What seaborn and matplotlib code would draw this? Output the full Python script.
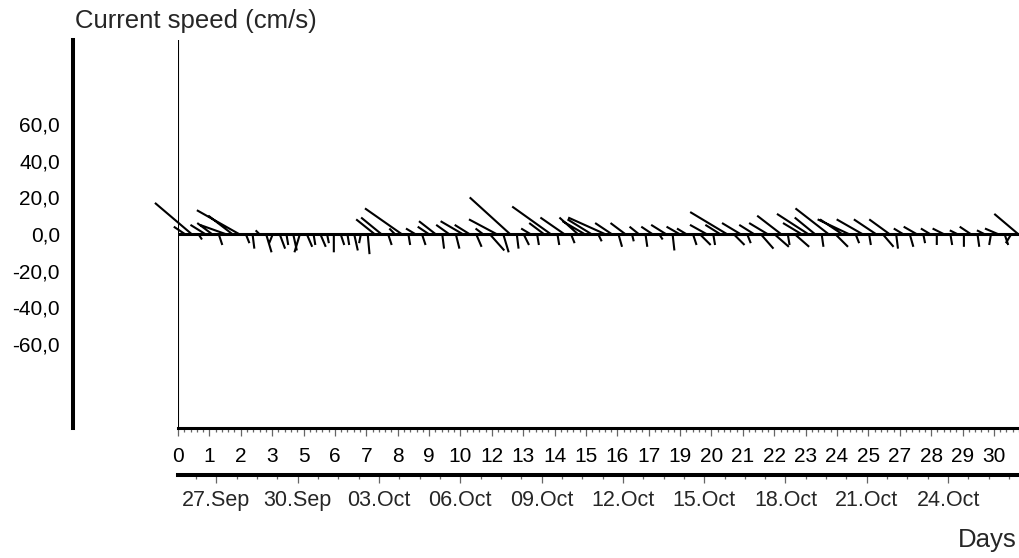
import numpy as np
import matplotlib
matplotlib.use("Agg")
import matplotlib.pyplot as plt
import matplotlib.dates as mdates
import pandas as pd
import seaborn as sns

# current vectors (cm/s), 6-hourly from the start of the record
u = [-6, -20, 2, -8, -8, 2, -14, -13, -23, 2, 1, -2, 3, -2, 3, 1,
     2, -3, 3, 1, 3, 1, 0, 2, 1, 2, -1, 1, -10, -11, 2, -3,
     -20, 1, -5, 2, -6, -9, 1, -7, 2, -12, -8, 3, -4, 8, -15, 3,
     -22, 1, 3, -5, 1, -8, -21, 1, -13, 2, -10, -12, -13, 2, -20, -9,
     2, -8, 1, -5, 1, -6, 2, -8, 1, -7, -5, 2, 6, -9, 1, -8,
     -20, 6, -10, 2, -8, 7, -10, 8, -13, 1, 8, -10, -17, -11, 1, -18,
     7, -12, -17, 2, -14, 1, -12, 6, -11, 1, -5, 2, -7, 1, -5, 0,
     -6, 1, -4, 0, -6, 1, -4, -1, -7, 2, -3, -13]
v = [4, 17, -3, 5, 6, -6, 5, 10, 13, -5, -8, 2, -10, -5, -8, -6,
     -9, -10, -7, -6, -7, -5, -10, -6, -6, -9, -5, -11, 8, 9, -6, 3,
     14, -6, 3, -6, 4, 7, -8, 5, -8, 7, 5, -7, 3, -9, 8, -10,
     20, -8, -6, 3, -6, 6, 15, -6, 9, -5, 9, 7, 8, -4, 9, 6,
     -7, 6, -4, 4, -7, 4, -3, 5, -9, 4, 3, -6, -6, 5, -6, 5,
     12, -6, 6, -5, 5, -8, 6, -7, 10, -6, -7, 6, 11, 9, -7, 14,
     -7, 8, 8, -5, 8, -6, 8, -7, 8, -8, 3, -7, 4, -5, 3, -6,
     3, -6, 2, -7, 4, -7, 2, -6, 3, -6, -5, 11]
times = np.arange(1, len(u) + 1) * 0.25  # days

day_labels = ["0", "1", "2", "3", "5", "6", "7", "8", "9", "10", "12", "13", "14",
              "15", "16", "17", "19", "20", "21", "22", "23", "24", "25", "27",
              "28", "29", "30"]
day_step = 1.158
y_values = [-60, -40, -20, 0, 20, 40, 60]
y_labels = ["-60,0", "-40,0", "-20,0", "0,0", "20,0", "40,0", "60,0"]
date_labels = ["27.Sep", "30.Sep", "03.Oct", "06.Oct", "09.Oct", "12.Oct",
               "15.Oct", "18.Oct", "21.Oct", "24.Oct"]
start = pd.Timestamp("2010-09-25 14:00")
first_date = pd.Timestamp("2010-09-27")

sns.set_style("white")
plt.rcParams["font.family"] = ["Liberation Sans", "DejaVu Sans"]
fs = 15

W, H = 1020, 558
fig = plt.figure(figsize=(W / 100, H / 100), dpi=100)
ax_l, ax_r, ax_t, ax_b = 178, 1020, 40, 428
ax = fig.add_axes([ax_l / W, 1 - ax_b / H, (ax_r - ax_l) / W, (ax_b - ax_t) / H])
span_days = (ax_r - ax_l) / 27.1
ax.set_xlim(0, span_days)
ax.set_ylim(-106, 106)

# stick plot: same screen scale for u and v
px_y = (ax_b - ax_t) / 212
px_x = (ax_r - ax_l) / span_days
k = px_y / px_x
u_arr = np.array(u, dtype=float)
v_arr = np.array(v, dtype=float)
nan = np.full(len(u), np.nan)
xs = np.column_stack([times, times + u_arr * k, nan]).ravel()
ys = np.column_stack([np.zeros(len(u)), v_arr, nan]).ravel()
ax.plot(xs, ys, color="black", lw=1.5, clip_on=False, solid_capstyle="butt")
ax.axhline(0, color="black", lw=2.2)
ax.axvline(0, color="black", lw=1.5)

for s in ["top", "right"]:
    ax.spines[s].set_visible(False)
ax.spines["left"].set_position(("outward", 105 * 0.72))
ax.spines["left"].set_linewidth(2.9)
ax.spines["bottom"].set_linewidth(2.2)
for s in ["left", "bottom"]:
    ax.spines[s].set_color("black")

ax.set_yticks(y_values, y_labels)
ax.set_yticks(np.arange(-75, 80, 5), minor=True)
ax.set_xticks(np.arange(len(day_labels)) * day_step, day_labels)
ax.set_xticks(np.arange(0, span_days, day_step / 5), minor=True)
ax.tick_params(axis="both", which="major", direction="out", length=5.5, width=0.9,
               color="#666666", labelsize=fs, labelcolor="black", pad=4)
ax.tick_params(axis="x", which="major", pad=8)
ax.tick_params(axis="both", which="minor", direction="out", length=3, width=0.9,
               color="#666666")

# calendar axis below the day axis
ax2 = ax.twiny()
t0 = mdates.date2num(start)
ax2.set_xlim(t0, t0 + span_days)
ax2.xaxis.set_ticks_position("bottom")
ax2.xaxis.set_label_position("bottom")
for s in ["top", "left", "right"]:
    ax2.spines[s].set_visible(False)
ax2.spines["bottom"].set_position(("outward", 47 * 0.72))
ax2.spines["bottom"].set_linewidth(2.9)
ax2.spines["bottom"].set_color("black")
d0 = mdates.date2num(first_date)
ax2.set_xticks(d0 + 3 * np.arange(len(date_labels)), date_labels)
ax2.set_xticks(d0 + 0.75 * np.arange(-1, 40), minor=True)
ax2.set_xlim(t0, t0 + span_days)
ax2.tick_params(axis="x", which="major", direction="out", length=6, width=0.9,
                color="#666666", labelsize=15.5, pad=5)
ax2.tick_params(axis="x", which="minor", direction="out", length=3, width=0.9,
                color="#666666")

fig.text(75 / W, 1 - 28 / H, "Current speed (cm/s)", fontsize=18.5, va="baseline")
fig.text(1017 / W, 1 - 547 / H, "Days", fontsize=18.5, ha="right", va="baseline")

fig.savefig("out.png", dpi=100)
